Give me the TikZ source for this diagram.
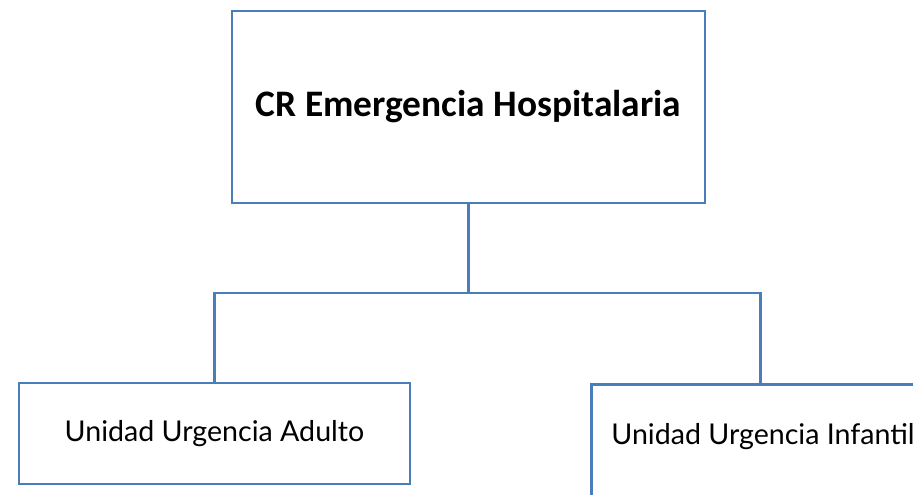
\documentclass[tikz,border=0pt]{standalone}
\usepackage{fontspec}
\setmainfont{Carlito}
\newfontfamily\bodyfont{Lato}
\definecolor{boxblue}{RGB}{74,126,187}
\begin{document}
\begin{tikzpicture}[x=1pt,y=-1pt,
  orgbox/.style={draw=boxblue,line width=2.6pt,fill=white,rectangle,inner sep=0pt},
  link/.style={draw=boxblue,line width=2.6pt},
  bodytext/.style={font=\bodyfont\fontsize{28.6}{34}\selectfont}]
\useasboundingbox (0,0) rectangle (913,495);
\clip (0,0) rectangle (913,495);
\node[orgbox,minimum width=473pt,minimum height=192pt,font=\fontsize{37.4}{44}\selectfont\bfseries] (top) at (468.5,107) {CR Emergencia Hospitalaria};
\node[orgbox,minimum width=391pt,minimum height=101pt,bodytext] (adulto) at (214.5,433.5) {Unidad Urgencia Adulto};
\node[orgbox,minimum width=338pt,minimum height=140pt,anchor=north west] (infantil) at (590,383) {};
\node[bodytext,inner sep=0pt] (inftext) at (763,437) {Unidad Urgencia Infantil};
\coordinate (junction) at (468.5,293);
\draw[link] (top.south) -- (junction);
\draw[link] (adulto.north) |- (junction) -| (infantil.north);
\end{tikzpicture}
\end{document}
